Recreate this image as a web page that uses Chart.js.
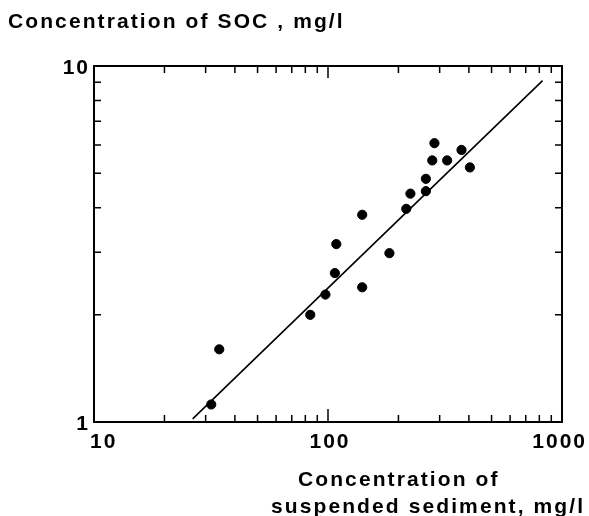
<!DOCTYPE html>
<html>
<head>
<meta charset="utf-8">
<script src="https://cdn.jsdelivr.net/npm/chart.js@4/dist/chart.umd.min.js"></script>
<style>
  html, body { margin: 0; padding: 0; background: #fff; }
  canvas { display: block; }
</style>
</head>
<body>
<canvas id="socChart" width="589" height="516"></canvas>
<script>
// Data (log-log)
const sediment = [31.7, 34.3, 84, 97.5, 107, 140, 108.5, 140, 183, 216, 225, 262, 262, 279, 285, 323, 372, 404];
const soc      = [1.12, 1.60, 2.00, 2.28, 2.62, 2.39, 3.16, 3.82, 2.98, 3.97, 4.38, 4.45, 4.82, 5.43, 6.07, 5.43, 5.81, 5.19];

// fitted line end points
const fitX = [26.4, 826];
const fitY = [1.02, 9.1];

const xTickLabels = [10, 100, 1000];
const yTickLabels = [1, 10];
const xMinor = [20, 30, 40, 50, 60, 70, 80, 90, 200, 300, 400, 500, 600, 700, 800, 900];
const yMinor = [2, 3, 4, 5, 6, 7, 8, 9];

const FONT = 'bold 21px "Liberation Sans", Arial, sans-serif';

// frame, ticks and all text
const framePlugin = {
    id: 'frame',
    afterDraw(chart) {
        const { ctx, chartArea: a, scales } = chart;
        const xs = scales.x, ys = scales.y;
        ctx.save();
        ctx.strokeStyle = '#000';

        // ticks (inward, on all four sides)
        ctx.lineWidth = 1.5;
        ctx.beginPath();
        xMinor.forEach(v => {
            const px = xs.getPixelForValue(v);
            ctx.moveTo(px, a.bottom); ctx.lineTo(px, a.bottom - 7);
            ctx.moveTo(px, a.top); ctx.lineTo(px, a.top + 7);
        });
        const p100 = xs.getPixelForValue(100);
        ctx.moveTo(p100, a.bottom); ctx.lineTo(p100, a.bottom - 13);
        ctx.moveTo(p100, a.top); ctx.lineTo(p100, a.top + 12);
        yMinor.forEach(v => {
            const py = ys.getPixelForValue(v);
            ctx.moveTo(a.left, py); ctx.lineTo(a.left + 7, py);
            ctx.moveTo(a.right, py); ctx.lineTo(a.right - 7, py);
        });
        ctx.stroke();

        // box
        ctx.lineWidth = 2;
        ctx.strokeRect(a.left, a.top, a.right - a.left, a.bottom - a.top);

        // tick labels
        ctx.fillStyle = '#000';
        ctx.font = FONT;
        ctx.textBaseline = 'alphabetic';
        ctx.letterSpacing = '2px';
        ctx.textAlign = 'center';
        xTickLabels.forEach(v => {
            const s = String(v);
            const w = ctx.measureText(s).width;
            const px = Math.max(Math.min(xs.getPixelForValue(v) + 2, 587 - w / 2), 90 + w / 2);
            ctx.fillText(s, px, 448);
        });
        ctx.textAlign = 'right';
        yTickLabels.forEach(v => {
            ctx.fillText(String(v), a.left - 4, ys.getPixelForValue(v) + 8);
        });

        // axis titles
        ctx.textAlign = 'left';
        ctx.letterSpacing = '2.1px';
        ctx.fillText('Concentration of SOC , mg/l', 8, 28);
        ctx.fillText('Concentration of', 298, 486);
        ctx.fillText('suspended sediment, mg/l', 271, 513);
        ctx.restore();
    }
};

new Chart(document.getElementById('socChart'), {
    type: 'scatter',
    data: {
        datasets: [
            {
                data: sediment.map((x, i) => ({ x: x, y: soc[i] })),
                backgroundColor: '#000',
                borderColor: '#000',
                pointRadius: 4.6,
                pointHoverRadius: 4.6
            },
            {
                type: 'line',
                data: fitX.map((x, i) => ({ x: x, y: fitY[i] })),
                borderColor: '#000',
                borderWidth: 1.6,
                pointRadius: 0,
                fill: false
            }
        ]
    },
    options: {
        responsive: false,
        animation: false,
        layout: { padding: { left: 94, top: 66, right: 27, bottom: 94 } },
        plugins: { legend: { display: false }, tooltip: { enabled: false } },
        scales: {
            x: { type: 'logarithmic', min: 10, max: 1000, display: false },
            y: { type: 'logarithmic', min: 1, max: 10, display: false }
        }
    },
    plugins: [framePlugin]
});
</script>
</body>
</html>
